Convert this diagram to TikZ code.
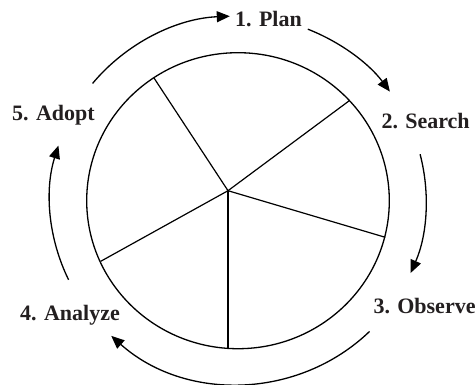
\documentclass[tikz,border=0pt]{standalone}
\usepackage{fontspec}
\setmainfont{Liberation Serif}
\usetikzlibrary{arrows.meta,calc}
\definecolor{ink}{HTML}{231F20}
\begin{document}
\begin{tikzpicture}[x=1pt,y=1pt,
  lbl/.style={anchor=base west,inner sep=0pt,text=ink,font=\fontsize{22}{24}\selectfont\bfseries},
  cyc/.style={line width=1.3pt,-{Triangle[length=13pt,width=11pt]}},
  rim/.style={line width=1.3pt},
  spoke/.style={line width=1.2pt}]
\useasboundingbox (0,0) rectangle (476,-384);
% labels
\node[lbl] (plan) at (235,-26.7) {1. Plan};
\node[lbl] (search) at (381.3,-128.7) {2. Search};
\node[lbl] (observe) at (373.3,-313.3) {3. Observe};
\node[lbl] (analyze) at (20,-320.7) {4. Analyze};
\node[lbl] (adopt) at (12,-120.7) {5. Adopt};
% pie
\coordinate (c) at (238,-200.7);
\draw[rim] (c) ellipse[x radius=151.3,y radius=148];
\coordinate (hub) at (228,-190.7);
\coordinate (s1) at (154,-78);
\coordinate (s2) at (349.3,-100.7);
\coordinate (s3) at (385.3,-237.3);
\coordinate (s4) at (228,-348.5);
\coordinate (s5) at (100.7,-261.3);
\draw[spoke] (hub) -- (s1);
\draw[spoke] (hub) -- (s2);
\draw[spoke] (hub) -- (s3);
\draw[spoke,line width=1.7pt] (hub) -- (s4);
\draw[spoke] (hub) -- (s5);
% cycle arrows
\coordinate (o) at (238,-200);
\coordinate (a1) at ($(o)+(140.7:188 and 184)$);
\coordinate (a2) at ($(o)+(68.2:188 and 184)$);
\coordinate (a3) at ($(o)+(14.4:188 and 184)$);
\coordinate (a4) at ($(o)+(-45.6:188 and 184)$);
\coordinate (a5) at ($(o)+(205.7:188 and 184)$);
\draw[cyc] (a1) arc[start angle=140.7,end angle=92.5,x radius=188,y radius=184];
\draw[cyc] (a2) arc[start angle=68.2,end angle=36.1,x radius=188,y radius=184];
\draw[cyc] (a3) arc[start angle=14.4,end angle=-23.4,x radius=188,y radius=184];
\draw[cyc] (a4) arc[start angle=-45.6,end angle=-132.4,x radius=188,y radius=184];
\draw[cyc] (a5) arc[start angle=205.7,end angle=162.8,x radius=188,y radius=184];
\end{tikzpicture}
\end{document}
